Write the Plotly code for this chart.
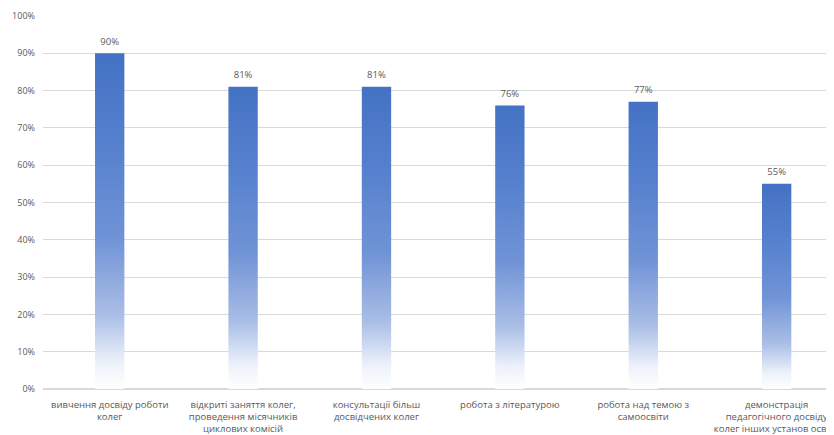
import plotly.graph_objects as go

categories = [
    "вивчення досвіду роботи<br>колег",
    "відкриті заняття колег,<br>проведення місячників<br>циклових комісій",
    "консультації більш<br>досвідчених колег",
    "робота з літературою",
    "робота над темою з<br>самоосвіти",
    "демонстрація<br>педагогічного досвіду<br>колег інших установ освіти",
]
values = [90, 81, 81, 76, 77, 55]
y_ticks = [0, 10, 20, 30, 40, 50, 60, 70, 80, 90, 100]
y_tick_labels = [f"{v}%" for v in y_ticks]

BAR_HALF = 0.11
grad = [
    [0.0, "rgba(255,255,255,1)"],
    [0.08, "rgb(236,241,250)"],
    [0.22, "rgb(170,190,230)"],
    [0.45, "rgb(112,147,214)"],
    [0.75, "rgb(84,127,205)"],
    [1.0, "rgb(68,114,196)"],
]

fig = go.Figure()
for i, v in enumerate(values):
    fig.add_trace(go.Scatter(
        x=[i - BAR_HALF, i + BAR_HALF, i + BAR_HALF, i - BAR_HALF, i - BAR_HALF],
        y=[0, 0, v, v, 0],
        mode="lines",
        line=dict(width=0),
        fill="toself",
        fillgradient=dict(type="vertical", colorscale=grad),
        hoverinfo="skip",
        showlegend=False,
    ))

fig.add_trace(go.Scatter(
    x=list(range(len(values))),
    y=values,
    mode="markers+text",
    marker=dict(size=8, color="rgba(0,0,0,0)"),
    text=[f"{v}%" for v in values],
    textposition="top center",
    textfont=dict(family="Open Sans", size=9.5, color="#595959"),
    showlegend=False,
    hoverinfo="skip",
))

fig.update_layout(
    width=826, height=427,
    margin=dict(l=35, r=0, t=8, b=46),
    plot_bgcolor="white", paper_bgcolor="white",
    font=dict(family="Open Sans", size=9, color="#595959"),
    xaxis=dict(
        range=[-0.5, 5.43],
        tickvals=list(range(len(categories))),
        ticktext=categories,
        showgrid=False, zeroline=False, showline=False,
        ticks="", ticklabelstandoff=8,
        ticklabeloverflow="allow",
        tickfont=dict(size=9.5, color="#595959"),
        tickangle=0, automargin=False,
    ),
    yaxis=dict(
        range=[0, 100],
        tickvals=y_ticks,
        ticktext=y_tick_labels,
        showgrid=True, gridcolor="#d9d9d9", gridwidth=1,
        zeroline=True, zerolinecolor="#d9d9d9",
        showline=False, ticks="",
        tickfont=dict(size=9, color="#595959"),
        ticklabelstandoff=7, automargin=False,
    ),
)

fig.write_html("out.html")
